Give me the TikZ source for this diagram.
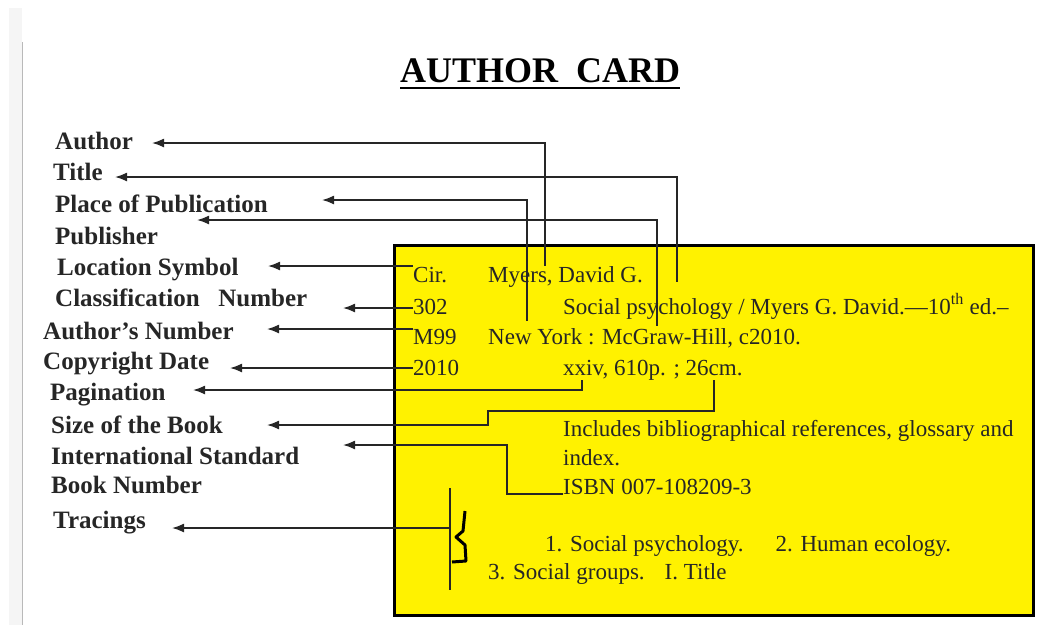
\documentclass[tikz,border=0pt]{standalone}
\usepackage{fontspec}
\setmainfont{Liberation Serif}
\usetikzlibrary{arrows.meta}
\tikzstyle{field}=[anchor=base west,inner sep=0pt,font=\fontsize{25}{27}\selectfont\bfseries,text=black!85]
\tikzstyle{entry}=[anchor=base west,inner sep=0pt,font=\fontsize{23}{25}\selectfont,text=black!85]
\tikzstyle{link}=[line width=1.6pt,black!85,-{Latex[length=12pt,width=9pt]}]
\tikzstyle{wire}=[line width=1.6pt,black!85]

\begin{document}
\begin{tikzpicture}[x=1pt,y=-1pt]
\useasboundingbox (0,0) rectangle (1057,625);
\fill[gray!8] (9,8) rectangle (22,625);
\draw[gray!55,line width=1.5pt] (22.5,42) -- (22.5,625);

\node[anchor=base west,inner sep=0pt,font=\fontsize{36}{40}\selectfont\bfseries] (head) at (400,82) {AUTHOR\ \ CARD};
\draw[line width=2.5pt] ([yshift=-6pt]head.base west) -- ([yshift=-6pt]head.base east);

\draw[fill=yellow,line width=3pt] (394,245) rectangle (1033,615);

\node[field] (author) at (55,149) {Author};
\node[field] (title) at (53,180) {Title};
\node[field] (place) at (55,212) {Place of Publication};
\node[field] (publisher) at (55,244) {Publisher};
\node[field] (location) at (57,275) {Location Symbol};
\node[field] (class) at (55,306) {Classification\ \ \ Number};
\node[field] (authnum) at (43,339) {Author's Number};
\node[field] (copyright) at (43,369) {Copyright Date};
\node[field] (pagination) at (50,400) {Pagination};
\node[field] (size) at (51,433) {Size of the Book};
\node[field] (isbnlabel) at (51,464) {International Standard};
\node[field] (booknum) at (51,493) {Book Number};
\node[field] (tracings) at (53,528) {Tracings};

\node[entry] (cir) at (413,282) {Cir.};
\node[entry] (myers) at (488,282) {Myers, David G.};
\node[entry] (c302) at (413,314) {302};
\node[entry] (stitle) at (563,314) {Social psychology / Myers G. David.---10\textsuperscript{th} ed.--};
\node[entry] (m99) at (413,344) {M99};
\node[entry] (imprint) at (488,344) {New York : McGraw-Hill, c2010.};
\node[entry] (c2010) at (413,375) {2010};
\node[entry] (collation) at (563,375) {xxiv, 610p. ; 26cm.};
\node[entry] (note) at (563,436) {Includes bibliographical references, glossary and};
\node[entry] (index) at (563,465) {index.};
\node[entry] (isbn) at (563,494) {ISBN 007-108209-3};
\node[entry] (subj) at (545,551) {1. Social psychology.\hspace{32pt}2. Human ecology.};
\node[entry] (added) at (488,579) {3. Social groups.\hspace{20pt}I. Title};

\coordinate (tAuthor) at (152,143);
\coordinate (tTitle) at (115,177);
\coordinate (tPlace) at (322,200);
\coordinate (tPub) at (197,220);
\coordinate (tLoc) at (268,266);
\coordinate (tClass) at (343,308);
\coordinate (tAnum) at (267,329);
\coordinate (tCopy) at (230,368);
\coordinate (tPag) at (193,390);
\coordinate (tSize) at (267,425);
\coordinate (tIsbn) at (343,445);
\coordinate (tTrac) at (172,528);
\coordinate (bSize) at (488,411);
\coordinate (bIsbn) at (507,445);
\coordinate (brace) at (450,528);

\draw[link] ([xshift=57pt]myers.north west) |- (tAuthor);
\draw[link] ([xshift=114pt,yshift=12pt]stitle.north west) |- (tTitle);
\draw[link] ([xshift=39pt,yshift=7pt]imprint.north west) |- (tPlace);
\draw[link] ([xshift=169pt,yshift=2pt]imprint.north west) |- (tPub);
\draw[link] (cir.west |- tLoc) -- (tLoc);
\draw[link] (c302.west |- tClass) -- (tClass);
\draw[link] (m99.west |- tAnum) -- (tAnum);
\draw[link] (c2010.west |- tCopy) -- (tCopy);
\draw[link] ([xshift=19pt]collation.south west) |- (tPag);
\draw[link] ([xshift=151pt]collation.south west) |- (bSize) |- (tSize);
\draw[link] (isbn.base west) -| (bIsbn) -- (tIsbn);
\draw[link] (brace) -- (tTrac);
\draw[wire] (450,488) -- (450,590);
\draw[line width=3pt,line join=round] (465,511) -- (463,531) -- (456,537) -- (465,545) -- (466,561) -- (452,562);
\end{tikzpicture}
\end{document}
